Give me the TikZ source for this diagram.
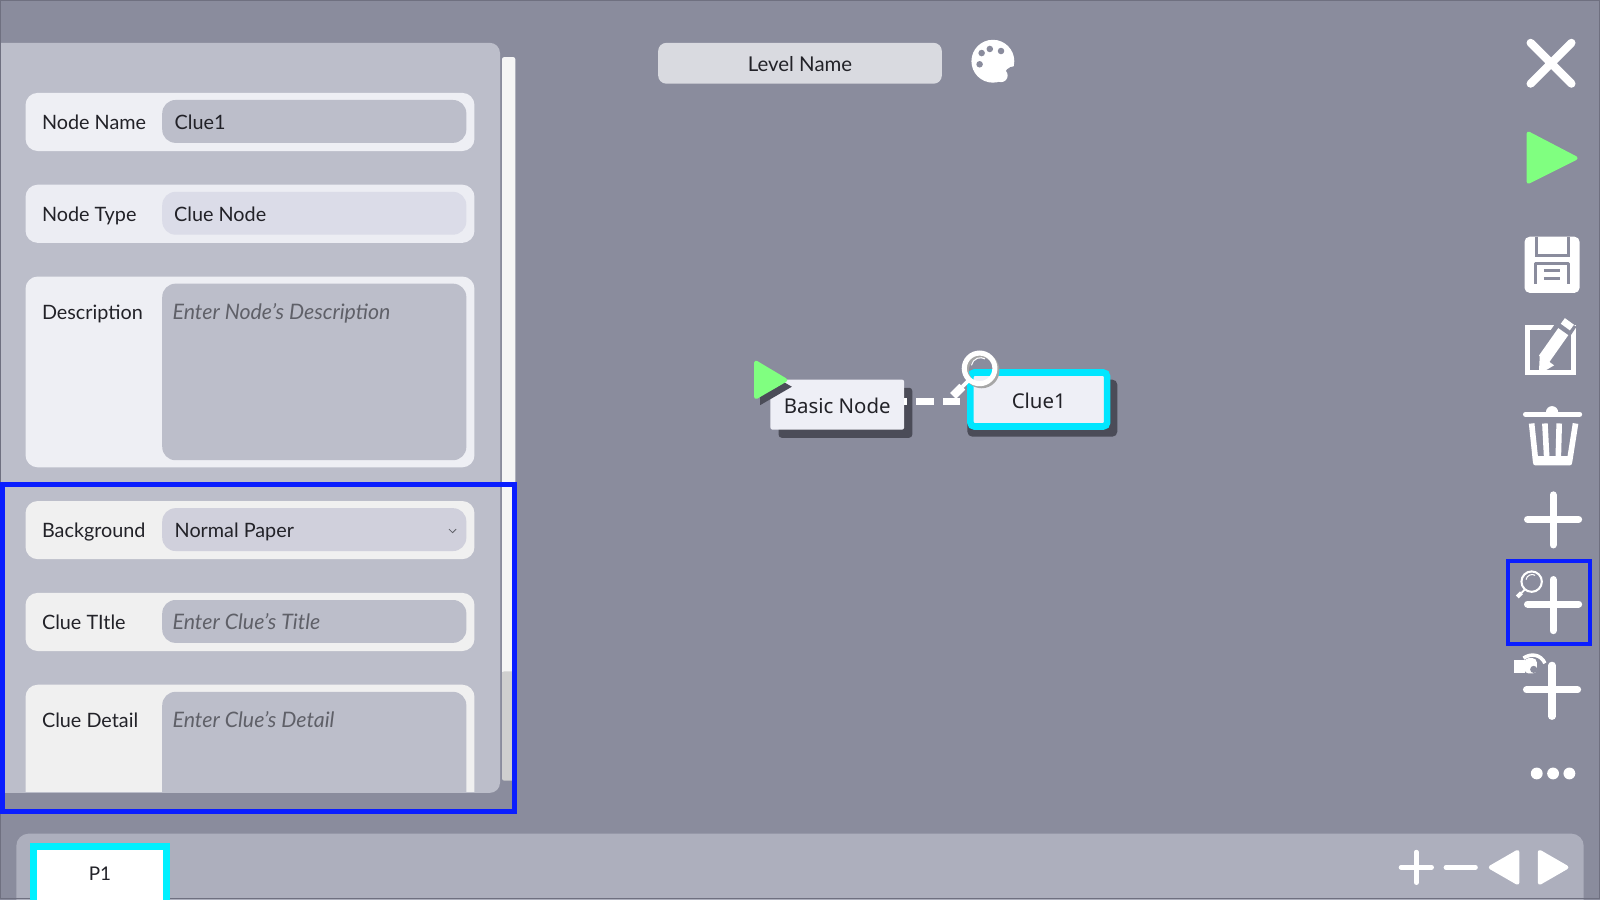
\documentclass[tikz,border=0pt]{standalone}
\usepackage{fontspec}
\setmainfont{Lato}
\newfontfamily\nodefont{Noto Sans}
\usetikzlibrary{shadows}
\definecolor{bgGray}{HTML}{8A8C9D}
\definecolor{frameGray}{HTML}{6F7080}
\definecolor{panelGray}{HTML}{BCBECA}
\definecolor{barGray}{HTML}{ADAFBD}
\definecolor{rowLight}{HTML}{EEEFF4}
\definecolor{typeField}{HTML}{DBDCE8}
\definecolor{dropField}{HTML}{D0D0DC}
\definecolor{levelGray}{HTML}{D9DAE0}
\definecolor{markBlue}{HTML}{0A1EFF}
\definecolor{selCyan}{HTML}{00E6FF}
\definecolor{tabCyan}{HTML}{00F0FF}
\definecolor{playGreen}{HTML}{80FF80}
\definecolor{shadowGray}{HTML}{4B4C58}
\definecolor{nodeFill}{HTML}{EEEFF6}
\definecolor{hintGray}{HTML}{5F6068}
\definecolor{textDark}{HTML}{222228}
\tikzset{
  rowbox/.style={fill=rowLight,rounded corners=12pt,minimum width=440pt,inner sep=0pt},
  fieldbox/.style={fill=panelGray,rounded corners=13pt,minimum width=298pt,inner sep=0pt},
  lbl/.style={anchor=west,inner sep=0pt,yshift=-2pt,text height=14pt,text depth=4pt,text=textDark,font=\fontsize{19.4}{24}\selectfont},
  hint/.style={anchor=west,inner sep=0pt,yshift=-2pt,text height=14pt,text depth=4pt,text=hintGray,font=\fontsize{20.9}{24}\selectfont\itshape},
  iconline/.style={draw=white,line cap=round,line width=#1},
  icontri/.style={fill=#1,draw=#1,line width=4pt,line join=round},
  graphnode/.style={inner sep=0pt,rounded corners=2pt,fill=nodeFill,text height=17pt,text depth=0pt,font=\nodefont\fontsize{20}{24}\selectfont,text=textDark}
}
\begin{document}
\begin{tikzpicture}[x=1pt,y=-1pt]
\useasboundingbox (0,0) rectangle (1568,882);
\fill[bgGray] (0,0) rectangle (1568,882);

% left panel
\fill[white!96!black,rounded corners=2pt] (492,56) rectangle (505,660);
\fill[black!19,rounded corners=2pt] (492,658) rectangle (505,765);
\fill[panelGray] (0,777) -- (480,777) arc[start angle=90,end angle=0,radius=10] -- (490,52) arc[start angle=0,end angle=-90,radius=10] -- (0,42) -- cycle;

\node[rowbox,minimum height=57pt] (nameRow) at (245,119.5) {};
\node[fieldbox,minimum height=42pt] (nameField) at (308,119) {};
\node[rowbox,minimum height=57pt,fill=rowLight!90!typeField] (typeRow) at (245,209.5) {};
\node[fieldbox,minimum height=42pt,fill=typeField] (typeField) at (308,209) {};
\node[rowbox,minimum height=187pt] (descRow) at (245,364.5) {};
\node[fieldbox,minimum height=173pt] (descField) at (308,364.5) {};
\node[rowbox,minimum height=57pt,fill=white!94!black] (bgRow) at (245,519.5) {};
\node[fieldbox,minimum height=42pt,fill=dropField] (bgField) at (308,519) {};
\node[rowbox,minimum height=57pt,fill=white!94!black] (titleRow) at (245,609.5) {};
\node[fieldbox,minimum height=42pt] (titleField) at (308,609) {};
\begin{scope}
\clip (0,600) rectangle (490,776);
\node[rowbox,minimum height=187pt,fill=white!94!black] (detailRow) at (245,764.5) {};
\node[fieldbox,minimum height=173pt] (detailField) at (308,764.5) {};
\end{scope}

\node[lbl] (nameLbl) at (41,120) {Node Name};
\node[lbl] (nameVal) at (171,120) {Clue1};
\node[lbl] (typeLbl) at (41,210) {Node Type};
\node[lbl] (typeVal) at (170.5,210) {Clue Node};
\node[lbl] (descLbl) at (41,306) {Description};
\node[hint] (descVal) at (169,306) {Enter Node's Description};
\node[lbl] (bgLbl) at (41,520) {Background};
\node[lbl] (bgVal) at (171,520) {Normal Paper};
\draw[hintGray,line width=0.8pt] (440,518.5) -- (443.5,522) -- (447,518.5);
\node[lbl] (titleLbl) at (41,610) {Clue TItle};
\node[hint] (titleVal) at (169,610) {Enter Clue's Title};
\node[lbl] (detailLbl) at (41,706) {Clue Detail};
\node[hint] (detailVal) at (169,706) {Enter Clue's Detail};

% top bar
\node[fill=levelGray,rounded corners=8pt,minimum width=278pt,minimum height=40pt,inner sep=0pt,text=textDark,text height=16.5pt,text depth=0pt,font=\fontsize{20}{24}\selectfont] (levelName) at (784,62) {Level Name};
\fill[white] (973,60) circle[radius=21];
\fill[bgGray] (994,75) circle[radius=10];
\fill[white] (981,74) circle[radius=6.5];
\foreach \x/\y in {962/52,970/48,981/50,960/63} {
  \fill[bgGray] (\x,\y) circle[radius=3.2];
}

% bottom bar
\fill[barGray] (16,882) -- (16,829) arc[start angle=180,end angle=270,radius=12] -- (1540,817) arc[start angle=-90,end angle=0,radius=12] -- (1552,882) -- cycle;
\draw[frameGray,line width=1pt] (0.8,0.8) rectangle (1567.2,880.6);
\node[draw=tabCyan,line width=7pt,fill=white,minimum width=131pt,minimum height=60pt,inner sep=0pt] (pageTab) at (98,859.5) {};
\node[inner sep=0pt,text=textDark,font=\fontsize{18.5}{24}\selectfont] (pageLbl) at (98,856) {P1};
\draw[iconline=4.5pt] (1373,850) -- (1403,850) (1388,835) -- (1388,865);
\draw[iconline=4.5pt] (1417,850) -- (1446,850);
\fill[icontri=white] (1461,850) -- (1487,835) -- (1487,865) -- cycle;
\fill[icontri=white] (1509,835) -- (1535,850) -- (1509,865) -- cycle;

% graph
\coordinate (wire) at (917,393.6);
\fill[shadowGray,rounded corners=3pt] (763,380) rectangle (894,429);
\fill[shadowGray,rounded corners=5pt] (948,372) rectangle (1095,428);
\node[graphnode,minimum width=131pt,minimum height=49pt] (basicNode) at (820.5,396.5) {Basic Node};
\node[graphnode,draw=selCyan,line width=6.5pt,minimum width=134pt,minimum height=53pt,rounded corners=4pt] (clueNode) at (1018,391.5) {Clue1};
\draw[white,line width=6.5pt,dash pattern=on 17pt off 9pt,dash phase=14.3pt] (basicNode.east |- wire) -- (clueNode.west |- wire);
\fill[shadowGray] (745,361) -- (776,379) -- (745,397) -- cycle;
\fill[icontri=playGreen] (741,355.5) -- (769.5,372.5) -- (741,389) -- cycle;
\draw[black!35,line width=5pt] (962,363) circle[radius=15];
\draw[white,line width=5pt] (960,361) circle[radius=15];
\draw[white,line width=3.5pt] (949,373) -- (943,379);
\draw[white,line width=8pt] (943,379) -- (934,388);
\draw[white,line width=1pt] (952,358) arc[start angle=-170,end angle=-60,radius=9];

% right toolbar
\draw[iconline=8pt] (1500,42) -- (1540,82) (1540,42) -- (1500,82);
\fill[icontri=playGreen] (1498,131) -- (1544,155) -- (1498,178) -- cycle;
\fill[white,rounded corners=5pt] (1494,232) rectangle (1548,287);
\draw[bgGray,line width=3pt] (1506,232) -- (1506,250) -- (1537,250) -- (1537,232);
\draw[bgGray,line width=3pt,line join=round] (1505,278) -- (1505,258) -- (1537,258) -- (1537,278);
\draw[bgGray,line width=3pt] (1513,265) -- (1529,265) (1513,273) -- (1529,273);
\draw[white,line width=5pt] (1497,321) rectangle (1542,365);
\draw[bgGray,line width=19pt] (1512,352) -- (1537,315);
\draw[white,line width=12pt] (1513,352) -- (1532,325);
\draw[white,line width=11pt] (1534,320.5) -- (1538,315);
\fill[white] (1508,367) -- (1509,348) -- (1523,358) -- cycle;
\draw[iconline=5pt] (1495,406) -- (1548,406);
\fill[white] (1515,404) arc[start angle=180,end angle=360,radius=6] -- cycle;
\foreach \xa/\xb in {1501/1505,1514/1516,1528/1527,1544/1538} {
  \draw[white,line width=5.5pt] (\xa,415) -- (\xb,453);
}
\fill[white,rounded corners=2pt] (1502.5,447) rectangle (1540.5,456);
\draw[iconline=7pt] (1497,509) -- (1547,509) (1522,485) -- (1522,534);
\draw[iconline=7pt] (1497,592) -- (1547,592) (1522,568) -- (1522,618);
\draw[iconline=7pt] (1496,676) -- (1546,676) (1521,652) -- (1521,702);
\draw[white,line width=2pt] (1501,570) circle[radius=10];
\draw[white,line width=1pt] (1495.5,568) arc[start angle=-170,end angle=-60,radius=6];
\draw[white,line width=1.8pt] (1494,578) -- (1491,581);
\draw[white,line width=4pt] (1491,581) -- (1487,585);
\fill[white] (1484,647) rectangle (1494.5,660);
\fill[white,rounded corners=4pt] (1494,645) rectangle (1506,660);
\draw[white,line width=3.5pt] (1493,645) .. controls (1500,640) and (1510,641) .. (1514,650);
\fill[bgGray] (1503,656) circle[radius=3.5];
\foreach \x in {1506,1522,1538} {
  \fill[white] (\x,758) circle[radius=5.8];
}

% markers
\draw[markBlue,line width=5pt] (2.5,475) rectangle (504.5,795.5);
\draw[markBlue,line width=4pt] (1478,550) rectangle (1558,631);
\end{tikzpicture}
\end{document}
